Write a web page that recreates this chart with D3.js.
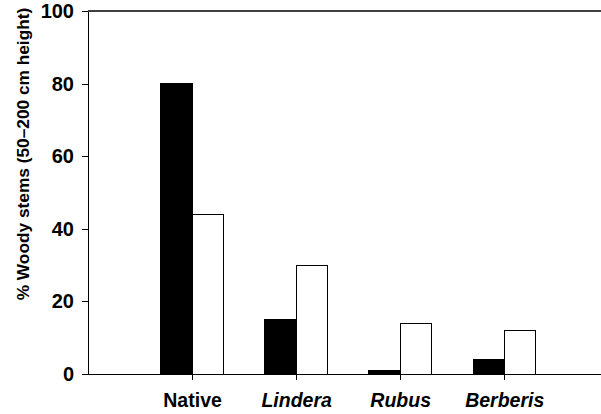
<!DOCTYPE html>
<meta charset="utf-8">
<style>
body { margin: 0; background: #fff; }
text { font-family: "Liberation Sans", Arial, sans-serif; font-weight: bold; fill: #000; }
.bar { stroke: #000; stroke-width: 1; shape-rendering: crispEdges; }
.axis path, .axis line { stroke: #000; shape-rendering: crispEdges; }
</style>
<body>
<script src="https://d3js.org/d3.v7.min.js"></script>
<script>
// categories and series values
var categories = ["Native", "Lindera", "Rubus", "Berberis"];
var italicCats = ["Lindera", "Rubus", "Berberis"];
var blackVals = [80, 15, 1, 4];
var whiteVals = [44, 30, 14, 12];
var yTicks = [0, 20, 40, 60, 80, 100];

var width = 601, height = 414;
var margin = {top: 11, right: 0, bottom: 40, left: 88};

var svg = d3.select("body").append("svg")
  .attr("width", width)
  .attr("height", height);

// categories sit at 1..4 on a linear axis
var x = d3.scaleLinear()
  .domain([0, 4.93])
  .range([margin.left, width - margin.right]);

var y = d3.scaleLinear()
  .domain([0, 100])
  .range([height - margin.bottom, margin.top]);

var barW = 0.3;

var rows = categories.map(function(c, i) {
  return {cat: c, pos: i + 1, black: blackVals[i], white: whiteVals[i]};
});

// black bars, left of tick
svg.selectAll(".bar-black")
  .data(rows)
  .enter().append("rect")
  .attr("class", "bar bar-black")
  .attr("x", function(d) { return x(d.pos - barW); })
  .attr("width", function(d) { return x(d.pos) - x(d.pos - barW); })
  .attr("y", function(d) { return y(d.black); })
  .attr("height", function(d) { return y(0) - y(d.black); })
  .attr("fill", "#000");

// white bars, right of tick
svg.selectAll(".bar-white")
  .data(rows)
  .enter().append("rect")
  .attr("class", "bar bar-white")
  .attr("x", function(d) { return x(d.pos); })
  .attr("width", function(d) { return x(d.pos + barW) - x(d.pos); })
  .attr("y", function(d) { return y(d.white); })
  .attr("height", function(d) { return y(0) - y(d.white); })
  .attr("fill", "#fff");

// y axis
var yAxis = svg.append("g")
  .attr("class", "axis")
  .attr("transform", "translate(" + margin.left + ",0)")
  .call(d3.axisLeft(y).tickValues(yTicks).tickSize(6).tickSizeOuter(0));
yAxis.selectAll("text")
  .attr("x", -14)
  .style("font-size", "20px")
  .style("font-family", "'Liberation Sans', Arial, sans-serif")
  .style("font-weight", "bold");

// x axis
var xAxis = svg.append("g")
  .attr("class", "axis")
  .attr("transform", "translate(0," + y(0) + ")")
  .call(d3.axisBottom(x).tickValues(rows.map(function(d) { return d.pos; }))
    .tickSize(6).tickSizeOuter(0)
    .tickFormat(function(d) { return categories[d - 1]; }));
xAxis.selectAll("text")
  .attr("y", 19)
  .style("font-size", "19.5px")
  .style("font-family", "'Liberation Sans', Arial, sans-serif")
  .style("font-weight", "bold")
  .style("font-style", function(d) {
    return italicCats.indexOf(categories[d - 1]) >= 0 ? "italic" : "normal";
  });

// top frame line
svg.append("line")
  .attr("x1", x(0)).attr("x2", x(4.93))
  .attr("y1", y(100)).attr("y2", y(100))
  .attr("stroke", "#000")
  .attr("stroke-width", 1.5);

// y axis title
svg.append("text")
  .attr("transform", "translate(29,154) rotate(-90)")
  .attr("text-anchor", "middle")
  .style("font-size", "17.3px")
  .text("% Woody stems (50\u2013200 cm height)");
</script>
</body>
